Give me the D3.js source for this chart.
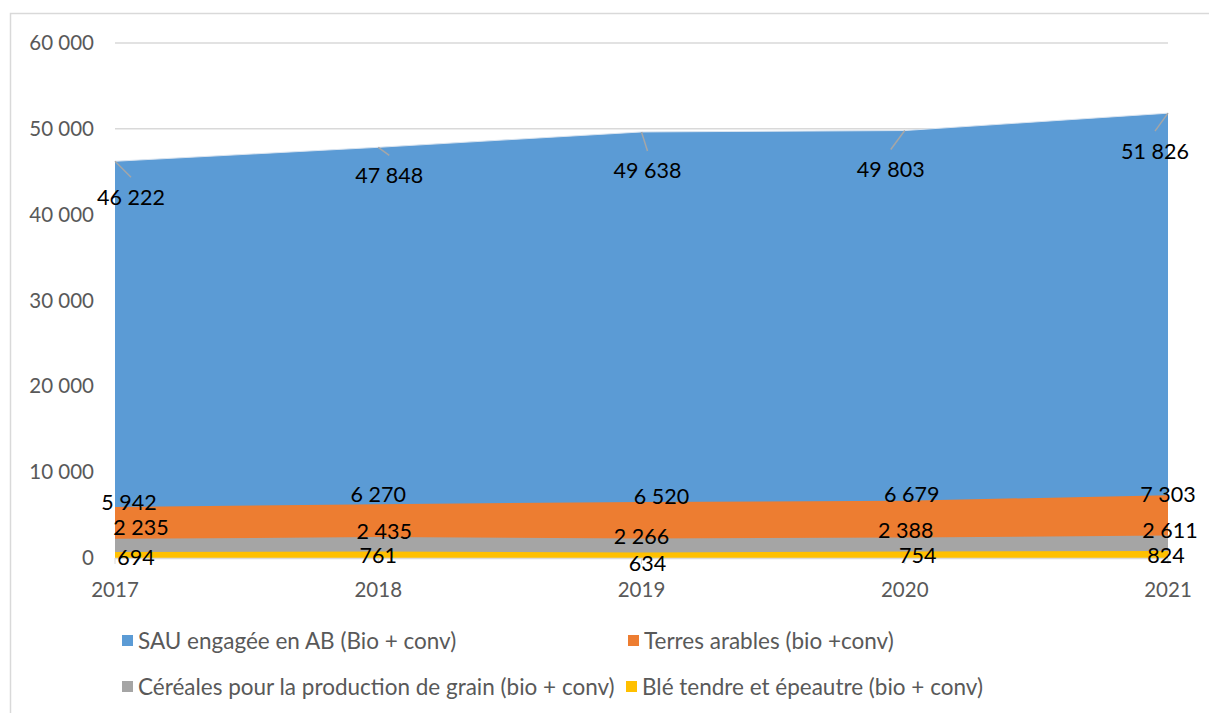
<!DOCTYPE html>
<html><head><meta charset="utf-8">
<script src="https://cdn.jsdelivr.net/npm/d3@7"></script>
<style>body{margin:0;background:#fff}svg{display:block}text{font-family:Lato,"Open Sans",sans-serif}</style>
</head><body><svg id="c" width="1209" height="713"></svg>
<script>
const years = ["2017","2018","2019","2020","2021"];
const seriesNames = ["SAU engagée en AB (Bio + conv)","Terres arables (bio +conv)","Céréales pour la production de grain (bio + conv)","Blé tendre et épeautre (bio + conv)"];
const sau = [46222,47848,49638,49803,51826];
const terres = [5942,6270,6520,6679,7303];
const cereales = [2235,2435,2266,2388,2611];
const ble = [694,761,634,754,824];
const yTicks = [0,10000,20000,30000,40000,50000,60000];
const colors = ["#5b9bd5","#ed7d31","#a5a5a5","#ffc000"];
// label offsets from data point (layout only): [dx, dy of label centre]
const labOff = [
  [[16,36],[11,28],[6,39],[-14,39],[-13,38]],
  [[14,-4],[0,-10],[20,-6],[7,-6],[0,-1]],
  [[26,-11],[6,-6],[0,-2],[1,-7],[2,-5]],
  [[21,5],[0,4],[6,11],[13,4],[-2,5]]
];
const data = [sau,terres,cereales,ble];
const svg = d3.select("#c");
const fmt = v => d3.format(",")(v).replace(/,/g," ");
// frame
svg.append("path").attr("d","M10.5,713 V13.5 H1209").attr("fill","none").attr("stroke","#d9d9d9").attr("stroke-width",1.5);
const x = d3.scalePoint().domain(years).range([115,1168]);
const y = d3.scaleLinear().domain([0,60000]).range([558,43]);
// grid
svg.append("g").selectAll("line").data(yTicks.slice(1)).join("line")
  .attr("x1",115).attr("x2",1168).attr("y1",d=>y(d)).attr("y2",d=>y(d))
  .attr("stroke","#d9d9d9").attr("stroke-width",1.5);
// y labels
svg.append("g").selectAll("text").data(yTicks).join("text")
  .attr("x",94).attr("y",d=>y(d)+7).attr("text-anchor","end")
  .attr("font-size",20.5).attr("fill","#595959").text(d=>fmt(d));
// areas
const area = d3.area().x((d,i)=>x(years[i])).y0(y(0)).y1(d=>y(d));
svg.append("g").selectAll("path").data(data).join("path")
  .attr("d",d=>area(d)).attr("fill",(d,i)=>colors[i]);
svg.append("path").attr("d",d3.line().x((d,i)=>x(years[i])).y(d=>y(d))(sau))
  .attr("fill","none").attr("stroke","#d9e4f0").attr("stroke-width",1);
// x axis
svg.append("line").attr("x1",115).attr("x2",1168).attr("y1",y(0)+0.5).attr("y2",y(0)+0.5).attr("stroke","#d9d9d9").attr("stroke-width",1.5);
svg.append("g").selectAll("line").data(years).join("line")
  .attr("x1",d=>x(d)).attr("x2",d=>x(d)).attr("y1",y(0)).attr("y2",y(0)+6).attr("stroke","#d9d9d9");
svg.append("g").selectAll("text").data(years).join("text")
  .attr("x",d=>x(d)).attr("y",597).attr("text-anchor","middle")
  .attr("font-size",20.5).attr("fill","#595959").text(d=>d);
// leader lines for SAU
svg.append("g").selectAll("line").data(sau).join("line")
  .attr("x1",(d,i)=>x(years[i])).attr("y1",d=>y(d))
  .attr("x2",(d,i)=>x(years[i])+labOff[0][i][0]).attr("y2",(d,i)=>y(d)+labOff[0][i][1]-20)
  .attr("stroke","#a6a6a6").attr("stroke-width",1.5);
// data labels
data.forEach((s,k)=>{
  svg.append("g").selectAll("text").data(s).join("text")
    .attr("x",(d,i)=>x(years[i])+labOff[k][i][0])
    .attr("y",(d,i)=>y(d)+labOff[k][i][1]+7.5)
    .attr("text-anchor","middle").attr("font-size",21.5).attr("fill","#000").text(d=>fmt(d));
});
// legend
const legPos = [[122,641],[628,641],[122,687],[626,687]];
const lg = svg.append("g").selectAll("g").data(seriesNames).join("g")
  .attr("transform",(d,i)=>`translate(${legPos[i][0]},${legPos[i][1]})`);
lg.append("rect").attr("x",0).attr("y",-6).attr("width",11).attr("height",11).attr("fill",(d,i)=>colors[i]);
lg.append("text").attr("x",16).attr("y",8).attr("font-size",22.5).attr("fill","#595959").text(d=>d);
</script></body></html>
